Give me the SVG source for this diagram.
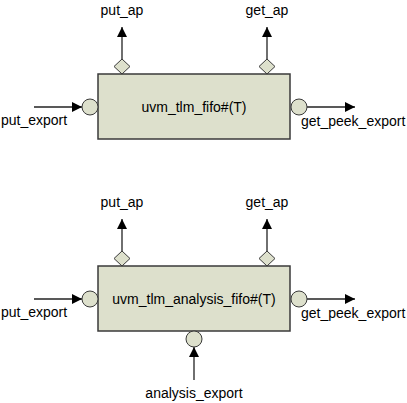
<svg xmlns="http://www.w3.org/2000/svg" width="407" height="403" viewBox="0 0 407 403">
<style>
.box{fill:#dde0cc;stroke:#3a3a3a;stroke-width:1.5}
.port{fill:#dde0cc;stroke:#3a3a3a;stroke-width:1}
.ln{stroke:#222;stroke-width:1.3;fill:none}
text{font-family:"Liberation Sans",Arial,sans-serif;font-size:14px;fill:#000}
</style>
<defs>
<marker id="ah" viewBox="0 0 10 10" refX="10" refY="5" markerWidth="10" markerHeight="10" markerUnits="userSpaceOnUse" orient="auto">
<path d="M0,0 L10,5 L0,10 z" fill="#000"/>
</marker>
</defs>
<g id="connectors">
<line class="ln" x1="122" y1="59" x2="122" y2="27" marker-end="url(#ah)"/>
<line class="ln" x1="267" y1="59" x2="267" y2="27" marker-end="url(#ah)"/>
<line class="ln" x1="34" y1="107" x2="82" y2="107" marker-end="url(#ah)"/>
<line class="ln" x1="307" y1="107" x2="355" y2="107" marker-end="url(#ah)"/>
<line class="ln" x1="122" y1="251" x2="122" y2="219" marker-end="url(#ah)"/>
<line class="ln" x1="267" y1="251" x2="267" y2="219" marker-end="url(#ah)"/>
<line class="ln" x1="34" y1="299" x2="82" y2="299" marker-end="url(#ah)"/>
<line class="ln" x1="307" y1="299" x2="355" y2="299" marker-end="url(#ah)"/>
<line class="ln" x1="194" y1="380" x2="194" y2="347" marker-end="url(#ah)"/>
</g>
<g id="fifo">
<rect class="box" x="98" y="74" width="192" height="65"/>
<text x="194" y="112" text-anchor="middle">uvm_tlm_fifo#(T)</text>
<path class="port" d="M122,59 L130,66.5 L122,74 L114,66.5 z"/>
<path class="port" d="M267,59 L275,66.5 L267,74 L259,66.5 z"/>
<circle class="port" cx="90" cy="107" r="8"/>
<circle class="port" cx="299" cy="107" r="8"/>
<text x="122" y="15" text-anchor="middle">put_ap</text>
<text x="267" y="15" text-anchor="middle">get_ap</text>
<text x="1" y="125">put_export</text>
<text x="301" y="126">get_peek_export</text>
</g>
<g id="analysis_fifo">
<rect class="box" x="98" y="266" width="192" height="65"/>
<text x="194" y="304" text-anchor="middle">uvm_tlm_analysis_fifo#(T)</text>
<path class="port" d="M122,251 L130,258.5 L122,266 L114,258.5 z"/>
<path class="port" d="M267,251 L275,258.5 L267,266 L259,258.5 z"/>
<circle class="port" cx="90" cy="299" r="8"/>
<circle class="port" cx="299" cy="299" r="8"/>
<circle class="port" cx="194" cy="339" r="8"/>
<text x="122" y="207" text-anchor="middle">put_ap</text>
<text x="267" y="207" text-anchor="middle">get_ap</text>
<text x="1" y="317">put_export</text>
<text x="301" y="318">get_peek_export</text>
<text x="194" y="398" text-anchor="middle">analysis_export</text>
</g>
</svg>
